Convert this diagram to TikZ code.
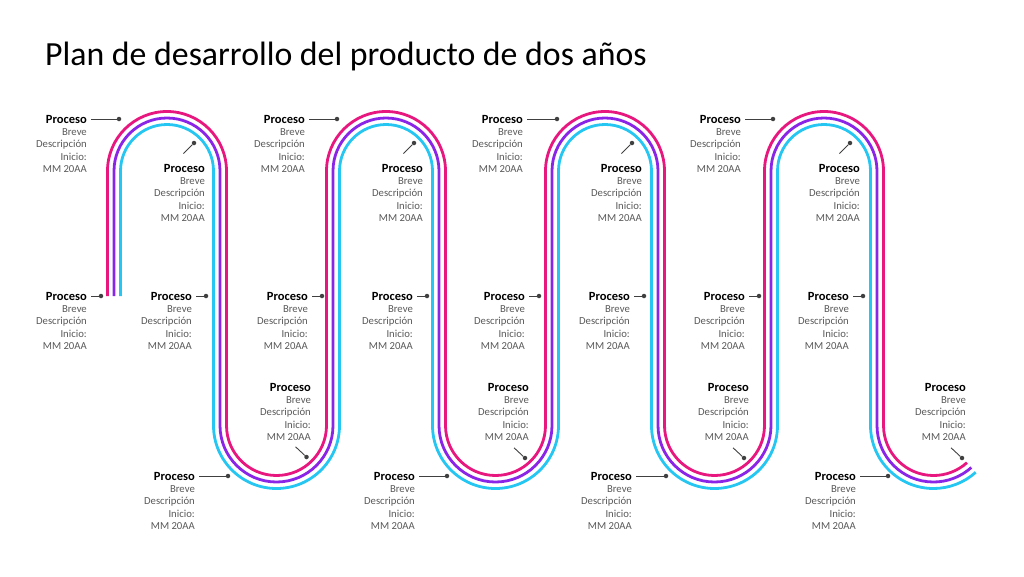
\documentclass[tikz,border=0pt]{standalone}
\usepackage{fontspec}
\setmainfont{Carlito}
\usetikzlibrary{positioning}

\definecolor{rosa}{HTML}{E8177F}
\definecolor{violeta}{HTML}{8A24E6}
\definecolor{celeste}{HTML}{26C6F2}
\definecolor{gristxt}{HTML}{595959}
\definecolor{guia}{HTML}{404040}

\tikzset{
  track/.style={line width=2.8pt},
  tit/.style={font=\bfseries\fontsize{12.5}{14}\selectfont, inner sep=0pt,
    text height=8pt, text depth=0pt, anchor=base east},
  desc/.style={font=\fontsize{10.7}{12.6}\selectfont, text=gristxt, align=right,
    inner sep=0pt},
  dot/.style={circle, fill=guia, inner sep=0pt, minimum size=4.5pt},
  lead/.style={draw=guia, line width=0.9pt},
}

% track with offset #2 (left of the way it runs)
\newcommand{\pista}[2]{%
\draw[track, #1] ({114-#2},-296) -- ({114-#2},-171)
  arc[start angle=180, end angle=0, radius={53+#2}] -- ++(0,-254.5)
  arc[start angle=180, end angle=360, radius={56.5-#2}] -- ++(0,254.5)
  arc[start angle=180, end angle=0, radius={53+#2}] -- ++(0,-254.5)
  arc[start angle=180, end angle=360, radius={56.5-#2}] -- ++(0,254.5)
  arc[start angle=180, end angle=0, radius={53+#2}] -- ++(0,-254.5)
  arc[start angle=180, end angle=360, radius={56.5-#2}] -- ++(0,254.5)
  arc[start angle=180, end angle=0, radius={53+#2}] -- ++(0,-254.5)
  arc[start angle=180, end angle=312, radius={56.5-#2}];}

% label: name, right edge, baseline
\newcommand{\proceso}[3]{%
\node[tit] (t#1) at (#2,#3) {Proceso};
\node[desc, below left=4.8pt and 0pt of t#1.south east] (b#1) {Breve\\Descripción\\Inicio:\\MM 20AA};}

\begin{document}
\begin{tikzpicture}[x=1pt, y=1pt]
\useasboundingbox (0,0) rectangle (1024,-576);
\node[anchor=base west, inner sep=0pt, font=\fontsize{33.8}{40}\selectfont] (titulo) at (45,-65) {Plan de desarrollo del producto de dos años};
%% track;
\pista{rosa}{6.5}
\pista{violeta}{0}
\pista{celeste}{-6.5}
%% label; top row
\proceso{A1}{87}{-123}
\proceso{A2}{305}{-123}
\proceso{A3}{523}{-123}
\proceso{A4}{741}{-123}
\node[dot] (dA1) at (119,-119) {};
\node[dot] (dA2) at (337,-119) {};
\node[dot] (dA3) at (557,-119) {};
\node[dot] (dA4) at (773,-119) {};
\draw[lead, shorten <=4pt] (tA1.east) -- (dA1);
\draw[lead, shorten <=4pt] (tA2.east) -- (dA2);
\draw[lead, shorten <=4pt] (tA3.east) -- (dA3);
\draw[lead, shorten <=4pt] (tA4.east) -- (dA4);
%% label; inside the top arches
\proceso{B1}{205}{-172}
\proceso{B2}{423}{-172}
\proceso{B3}{642}{-172}
\proceso{B4}{860}{-172}
\node[dot] (dB1) at (194,-143) {};
\node[dot] (dB2) at (414,-143) {};
\node[dot] (dB3) at (632,-143) {};
\node[dot] (dB4) at (850,-143) {};
\draw[lead] (dB1) -- ++(225:15);
\draw[lead] (dB2) -- ++(225:15);
\draw[lead] (dB3) -- ++(225:15);
\draw[lead] (dB4) -- ++(225:15);
%% label; middle row
\proceso{C1}{87}{-300}
\proceso{C2}{192}{-300}
\proceso{C3}{308}{-300}
\proceso{C4}{413}{-300}
\proceso{C5}{525}{-300}
\proceso{C6}{630}{-300}
\proceso{C7}{745}{-300}
\proceso{C8}{849}{-300}
\node[dot] (dC1) at (101,-296) {};
\node[dot] (dC2) at (206,-296) {};
\node[dot] (dC3) at (322,-296) {};
\node[dot] (dC4) at (427,-296) {};
\node[dot] (dC5) at (539,-296) {};
\node[dot] (dC6) at (644,-296) {};
\node[dot] (dC7) at (759,-296) {};
\node[dot] (dC8) at (863,-296) {};
\draw[lead, shorten <=4pt] (tC1.east) -- (dC1);
\draw[lead, shorten <=4pt] (tC2.east) -- (dC2);
\draw[lead, shorten <=4pt] (tC3.east) -- (dC3);
\draw[lead, shorten <=4pt] (tC4.east) -- (dC4);
\draw[lead, shorten <=4pt] (tC5.east) -- (dC5);
\draw[lead, shorten <=4pt] (tC6.east) -- (dC6);
\draw[lead, shorten <=4pt] (tC7.east) -- (dC7);
\draw[lead, shorten <=4pt] (tC8.east) -- (dC8);
%% label; inside the bottom arches
\proceso{D1}{311}{-391}
\proceso{D2}{529}{-391}
\proceso{D3}{749}{-391}
\proceso{D4}{966}{-391}
\node[dot] (dD1) at (306.5,-457) {};
\node[dot] (dD2) at (525,-458) {};
\node[dot] (dD3) at (744,-458) {};
\node[dot] (dD4) at (962,-458) {};
\draw[lead] (dD1) -- ++(137:15);
\draw[lead] (dD2) -- ++(137:15);
\draw[lead] (dD3) -- ++(137:15);
\draw[lead] (dD4) -- ++(137:15);
%% label; bottom row
\proceso{E1}{195}{-480}
\proceso{E2}{415}{-480}
\proceso{E3}{632}{-480}
\proceso{E4}{856}{-480}
\node[dot] (dE1) at (228,-476) {};
\node[dot] (dE2) at (447,-476) {};
\node[dot] (dE3) at (666,-476) {};
\node[dot] (dE4) at (888,-476) {};
\draw[lead, shorten <=4pt] (tE1.east) -- (dE1);
\draw[lead, shorten <=4pt] (tE2.east) -- (dE2);
\draw[lead, shorten <=4pt] (tE3.east) -- (dE3);
\draw[lead, shorten <=4pt] (tE4.east) -- (dE4);
\end{tikzpicture}
\end{document}
